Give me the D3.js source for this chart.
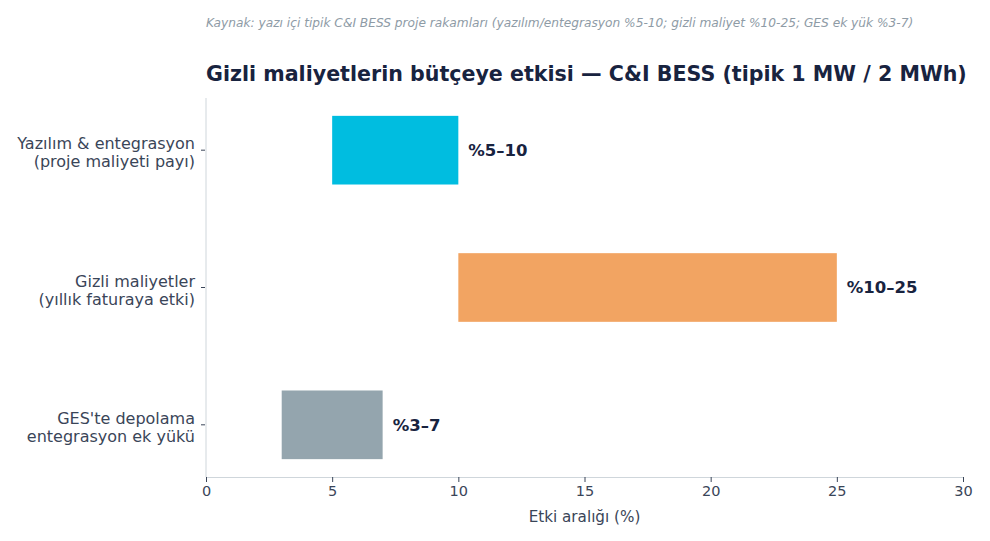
<!DOCTYPE html>
<html>
<head>
<meta charset="utf-8">
<script src="https://cdn.jsdelivr.net/npm/d3@7"></script>
<style>
  body { margin: 0; background: #fff; }
  text { font-family: "DejaVu Sans", sans-serif; }
</style>
</head>
<body>
<div id="chart"></div>
<script>
// data
var categories = [
  ["Yazılım & entegrasyon", "(proje maliyeti payı)"],
  ["Gizli maliyetler", "(yıllık faturaya etki)"],
  ["GES'te depolama", "entegrasyon ek yükü"]
];
var lows = [5, 10, 3];
var highs = [10, 25, 7];
var barLabels = ["%5–10", "%10–25", "%3–7"];
var colors = ["#00bde0", "#f2a462", "#94a5ae"];
var xTicks = [0, 5, 10, 15, 20, 25, 30];

var W = 990, H = 541;
var m = {left: 206, right: 27, top: 98, bottom: 64};

var svg = d3.select("#chart").append("svg").attr("width", W).attr("height", H);

var x = d3.scaleLinear().domain([0, 30]).range([m.left, W - m.right]);
var y = d3.scaleBand().domain(d3.range(categories.length))
  .range([m.top, H - m.bottom]).paddingInner(0.5).paddingOuter(0.13);

// source + title
svg.append("text").attr("x", m.left).attr("y", 27)
  .attr("font-size", 12.2).attr("font-style", "italic").attr("fill", "#8e9ba6")
  .text("Kaynak: yazı içi tipik C&I BESS proje rakamları (yazılım/entegrasyon %5-10; gizli maliyet %10-25; GES ek yük %3-7)");
svg.append("text").attr("x", m.left).attr("y", 81)
  .attr("font-size", 20.6).attr("font-weight", "bold").attr("fill", "#18233f")
  .text("Gizli maliyetlerin bütçeye etkisi — C&I BESS (tipik 1 MW / 2 MWh)");

// bars
svg.append("g").selectAll("rect").data(lows).join("rect")
  .attr("x", function(d) { return x(d); })
  .attr("y", function(d, i) { return y(i); })
  .attr("width", function(d, i) { return x(highs[i]) - x(d); })
  .attr("height", y.bandwidth())
  .attr("fill", function(d, i) { return colors[i]; });

svg.append("g").selectAll("text").data(highs).join("text")
  .attr("x", function(d) { return x(d) + 10; })
  .attr("y", function(d, i) { return y(i) + y.bandwidth() / 2; })
  .attr("dy", "0.35em")
  .attr("font-size", 16.5).attr("font-weight", "bold").attr("fill", "#18233f")
  .text(function(d, i) { return barLabels[i]; });

// x axis
var xAxis = svg.append("g").attr("transform", "translate(0," + (H - m.bottom) + ")")
  .call(d3.axisBottom(x).tickValues(xTicks).tickSize(5).tickPadding(4));
xAxis.select(".domain").attr("stroke", "#cfd6db");
xAxis.selectAll(".tick line").attr("stroke", "#3a4558");
xAxis.selectAll(".tick text").attr("font-size", 14.5).attr("fill", "#3a4558")
  .attr("font-family", "DejaVu Sans, sans-serif");

svg.append("text").attr("x", (x(0) + x(30)) / 2).attr("y", 522)
  .attr("text-anchor", "middle").attr("font-size", 15.2).attr("fill", "#3a4558")
  .text("Etki aralığı (%)");

// y axis
svg.append("line").attr("x1", m.left).attr("x2", m.left)
  .attr("y1", m.top).attr("y2", H - m.bottom).attr("stroke", "#cfd6db");

var yt = svg.append("g").selectAll("g").data(categories).join("g")
  .attr("transform", function(d, i) { return "translate(" + m.left + "," + (y(i) + y.bandwidth() / 2) + ")"; });
yt.append("line").attr("x1", -5).attr("x2", -1).attr("stroke", "#3a4558");
yt.append("text").attr("x", -11).attr("text-anchor", "end")
  .attr("font-size", 16).attr("fill", "#3a4558")
  .selectAll("tspan").data(function(d) { return d; }).join("tspan")
  .attr("x", -11)
  .attr("y", function(d, i) { return i === 0 ? -1 : 17; })
  .text(function(d) { return d; });
</script>
</body>
</html>
